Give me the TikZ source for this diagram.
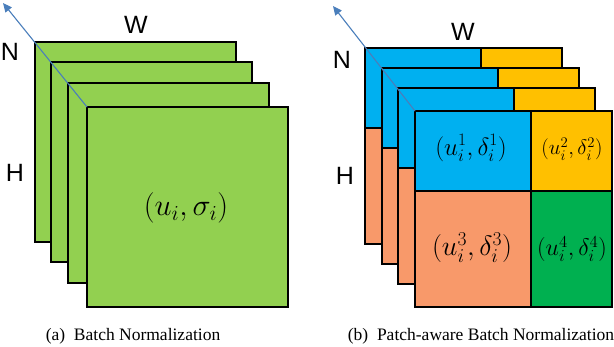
\documentclass[tikz,border=0pt]{standalone}
\usepackage{fix-cm}
\usepackage[no-math]{fontspec}
\setmainfont{Liberation Serif}
\setsansfont{Liberation Sans}
\usetikzlibrary{arrows.meta}
\definecolor{bngreen}{HTML}{92D050}
\definecolor{pblue}{HTML}{00B0F0}
\definecolor{pyellow}{HTML}{FFC000}
\definecolor{porange}{HTML}{F8996A}
\definecolor{pgreen}{HTML}{00B050}
\definecolor{axisblue}{HTML}{4A7EBB}
\tikzset{
  sheet/.style={draw=black, line width=1.6pt},
  axisarrow/.style={draw=axisblue, line width=1.1pt, -{Triangle[length=9pt,width=8pt]}},
  dimlabel/.style={font=\sffamily\fontsize{25}{30}\selectfont, inner sep=0pt},
  caplabel/.style={font=\fontsize{17.5}{21}\selectfont, inner sep=0pt},
  mathlabel/.style={inner sep=0pt},
}
\begin{document}
\begin{tikzpicture}[x=1pt,y=-1pt]
\useasboundingbox (0,0) rectangle (614,346);
% ---------- (a) Batch Normalization ----------
\foreach \x/\y in {35/42,51/62,68/83,87/107}{
  \filldraw[sheet, fill=bngreen] (\x,\y) rectangle ++(201,200);
}
\coordinate (afront) at (87,107);
\coordinate (atip) at (3,3);
\draw[axisarrow] (afront) -- (atip);
\node[dimlabel] (aW) at (136,25) {W};
\node[dimlabel] (aN) at (10,52) {N};
\node[dimlabel] (aH) at (15,173) {H};
\node[mathlabel] (amu) at (186,208) {\fontsize{30.5}{36}\selectfont$(u_i,\sigma_i)$};
\node[caplabel] (acap) at (133,336) {(a)\ \ Batch Normalization};
% ---------- (b) Patch-aware Batch Normalization ----------
\foreach \x/\y in {365/48,382/68,398/88,415/111}{
  \fill[pblue]   (\x,\y) rectangle ++(116,80);
  \fill[pyellow] (\x+116,\y) rectangle ++(81,80);
  \fill[porange] (\x,\y+80) rectangle ++(116,116);
  \fill[pgreen]  (\x+116,\y+80) rectangle ++(81,116);
  \draw[sheet] (\x,\y) rectangle ++(197,196);
  \draw[sheet] (\x+116,\y) -- ++(0,196);
  \draw[sheet] (\x,\y+80) -- ++(197,0);
}
\coordinate (bfront) at (415,111);
\coordinate (btip) at (333,6);
\draw[axisarrow] (bfront) -- (btip);
\node[dimlabel] (bW) at (463,32) {W};
\node[dimlabel] (bN) at (342,60) {N};
\node[dimlabel] (bH) at (345,176) {H};
\node[mathlabel] (bm1) at (471,148) {\fontsize{25}{30}\selectfont$(u_i^1,\delta_i^1)$};
\node[mathlabel] (bm2) at (572,149) {\fontsize{21}{25}\selectfont$(u_i^2,\delta_i^2)$};
\node[mathlabel] (bm3) at (472,248) {\fontsize{28}{33}\selectfont$(u_i^3,\delta_i^3)$};
\node[mathlabel] (bm4) at (572,249) {\fontsize{24}{29}\selectfont$(u_i^4,\delta_i^4)$};
\node[caplabel] (bcap) at (481,336) {(b)\ \ Patch-aware Batch Normalization};
\end{tikzpicture}
\end{document}
